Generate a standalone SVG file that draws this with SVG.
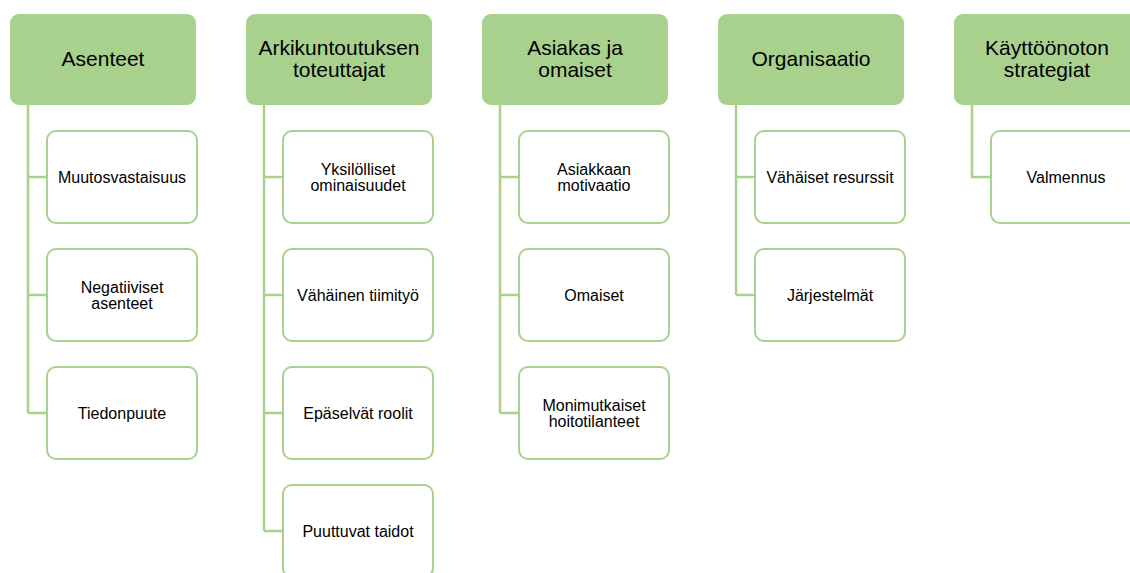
<svg xmlns="http://www.w3.org/2000/svg" width="1130" height="573" viewBox="0 0 1130 573">
<style>
.hd{fill:#A9D18E;}
.ch{fill:#FFFFFF;stroke:#A9D18E;stroke-width:2;}
.cn{fill:none;stroke:#A9D18E;stroke-width:2.5;}
text{font-family:"Liberation Sans",Arial,sans-serif;fill:#000;text-anchor:middle;}
.ht{font-size:21px;}
.ct{font-size:16px;}
</style>
<rect width="1130" height="573" fill="#FFFFFF"/>
<g id="connectors">
<path class="cn" d="M28,105 V413 M28,177 H47 M28,295 H47 M28,413 H47"/>
<path class="cn" d="M264,105 V531 M264,177 H283 M264,295 H283 M264,413 H283 M264,531 H283"/>
<path class="cn" d="M500,105 V413 M500,177 H519 M500,295 H519 M500,413 H519"/>
<path class="cn" d="M736,105 V295 M736,177 H755 M736,295 H755"/>
<path class="cn" d="M972,105 V177 H991"/>
</g>
<g id="h1"><rect class="hd" x="10" y="14" width="186" height="91" rx="9"/><text class="ht" x="103" y="66">Asenteet</text></g>
<g id="h2"><rect class="hd" x="246" y="14" width="186" height="91" rx="9"/><text class="ht" x="339" y="55">Arkikuntoutuksen</text><text class="ht" x="339" y="77">toteuttajat</text></g>
<g id="h3"><rect class="hd" x="482" y="14" width="186" height="91" rx="9"/><text class="ht" x="575" y="55">Asiakas ja</text><text class="ht" x="575" y="77">omaiset</text></g>
<g id="h4"><rect class="hd" x="718" y="14" width="186" height="91" rx="9"/><text class="ht" x="811" y="66">Organisaatio</text></g>
<g id="h5"><rect class="hd" x="954" y="14" width="186" height="91" rx="9"/><text class="ht" x="1047" y="55">Käyttöönoton</text><text class="ht" x="1047" y="77">strategiat</text></g>

<g id="c1a"><rect class="ch" x="47" y="131" width="150" height="92" rx="9"/><text class="ct" x="122" y="183">Muutosvastaisuus</text></g>
<g id="c1b"><rect class="ch" x="47" y="249" width="150" height="92" rx="9"/><text class="ct" x="122" y="293">Negatiiviset</text><text class="ct" x="122" y="309">asenteet</text></g>
<g id="c1c"><rect class="ch" x="47" y="367" width="150" height="92" rx="9"/><text class="ct" x="122" y="419">Tiedonpuute</text></g>

<g id="c2a"><rect class="ch" x="283" y="131" width="150" height="92" rx="9"/><text class="ct" x="358" y="175">Yksilölliset</text><text class="ct" x="358" y="191">ominaisuudet</text></g>
<g id="c2b"><rect class="ch" x="283" y="249" width="150" height="92" rx="9"/><text class="ct" x="358" y="301">Vähäinen tiimityö</text></g>
<g id="c2c"><rect class="ch" x="283" y="367" width="150" height="92" rx="9"/><text class="ct" x="358" y="419">Epäselvät roolit</text></g>
<g id="c2d"><rect class="ch" x="283" y="485" width="150" height="92" rx="9"/><text class="ct" x="358" y="537">Puuttuvat taidot</text></g>

<g id="c3a"><rect class="ch" x="519" y="131" width="150" height="92" rx="9"/><text class="ct" x="594" y="175">Asiakkaan</text><text class="ct" x="594" y="191">motivaatio</text></g>
<g id="c3b"><rect class="ch" x="519" y="249" width="150" height="92" rx="9"/><text class="ct" x="594" y="301">Omaiset</text></g>
<g id="c3c"><rect class="ch" x="519" y="367" width="150" height="92" rx="9"/><text class="ct" x="594" y="411">Monimutkaiset</text><text class="ct" x="594" y="427">hoitotilanteet</text></g>

<g id="c4a"><rect class="ch" x="755" y="131" width="150" height="92" rx="9"/><text class="ct" x="830" y="183">Vähäiset resurssit</text></g>
<g id="c4b"><rect class="ch" x="755" y="249" width="150" height="92" rx="9"/><text class="ct" x="830" y="301">Järjestelmät</text></g>

<g id="c5a"><rect class="ch" x="991" y="131" width="150" height="92" rx="9"/><text class="ct" x="1066" y="183">Valmennus</text></g>
</svg>
